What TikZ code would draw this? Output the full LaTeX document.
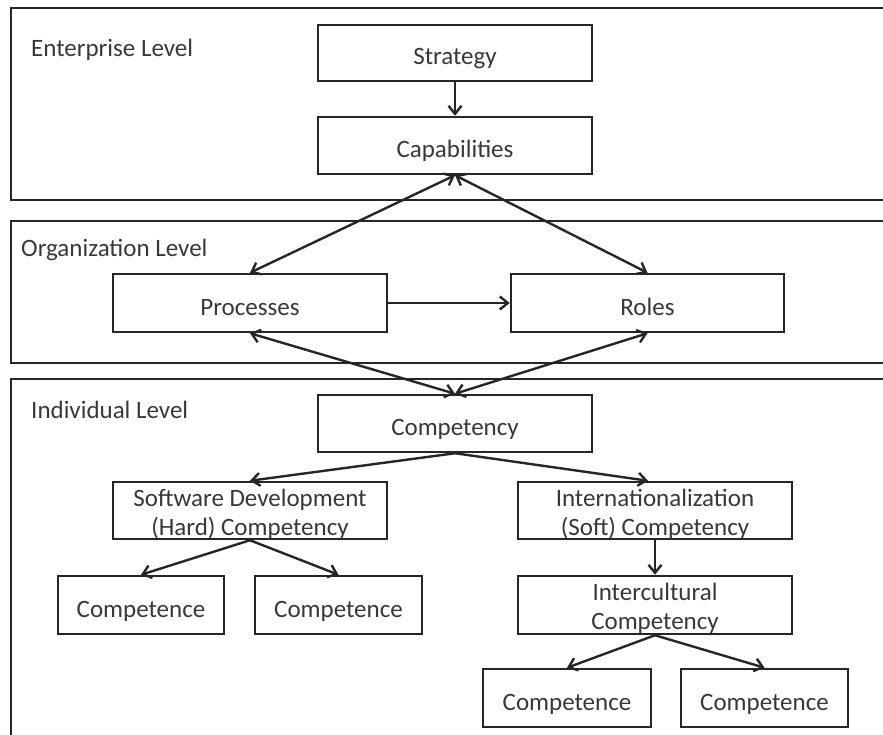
\documentclass[tikz,border=0pt]{standalone}
\usepackage{fontspec}
\setmainfont{Carlito}
\usetikzlibrary{arrows.meta}
\definecolor{linec}{HTML}{262626}
\definecolor{textc}{HTML}{383838}
\begin{document}
\begin{tikzpicture}[x=1pt,y=-1pt,
  frame/.style={draw=linec, line width=2.5pt},
  box/.style={draw=linec, line width=2.5pt, text=textc, fill=white,
    font=\fontsize{25}{29}\selectfont, inner sep=0pt, align=center,
    text height=26pt, text depth=2pt},
  twoline/.style={text height=49pt, text depth=0pt},
  lvl/.style={text=textc, font=\fontsize{25}{29}\selectfont, anchor=base west, inner sep=0pt},
  link/.style={draw=linec, line width=2.4pt, -{Straight Barb[length=8pt,width=13pt]}},
  both/.style={link, {Straight Barb[length=8pt,width=13pt]}-{Straight Barb[length=8pt,width=13pt]}}]
\useasboundingbox (0,0) rectangle (883,735);
\begin{scope}
  \clip (0,0) rectangle (883,735);
  % level frames, open to the right (and below for the last one)
  \draw[frame] (11,8) rectangle (900,200);
  \draw[frame] (11,221) rectangle (900,363);
  \draw[frame] (11,379) rectangle (900,760);
\end{scope}
\node[lvl] (enterprise) at (31,57) {Enterprise Level};
\node[lvl] (organization) at (21,257) {Organization Level};
\node[lvl] (individual) at (31,418) {Individual Level};

% boxes
\node[box, minimum width=274pt, minimum height=56pt] (strategy) at (455,53) {Strategy};
\node[box, minimum width=274pt, minimum height=57pt] (capab) at (455,145.5) {Capabilities};
\node[box, minimum width=274pt, minimum height=58pt] (processes) at (250,303) {Processes};
\node[box, minimum width=273pt, minimum height=58pt] (roles) at (647.5,303) {Roles};
\node[box, minimum width=274pt, minimum height=57pt] (competency) at (455,423.5) {Competency};
\node[box, twoline, minimum width=274pt, minimum height=57pt] (softdev) at (250,510.5) {Software Development\\(Hard) Competency};
\node[box, twoline, minimum width=274pt, minimum height=57pt] (intl) at (655,510.5) {Internationalization\\(Soft) Competency};
\node[box, minimum width=166pt, minimum height=58pt] (compA) at (141,605) {Competence};
\node[box, minimum width=167pt, minimum height=58pt] (compB) at (338.5,605) {Competence};
\node[box, twoline, minimum width=274pt, minimum height=58pt] (intercult) at (655,605) {Intercultural\\Competency};
\node[box, minimum width=168pt, minimum height=58pt] (compC) at (567,698) {Competence};
\node[box, minimum width=167pt, minimum height=58pt] (compD) at (764.5,698) {Competence};

% connectors
\draw[link] (strategy.south) -- (capab.north);
\draw[both] (capab.south) -- (processes.north);
\draw[both] (capab.south) -- (roles.north);
\draw[link] (processes.east) -- (roles.west);
\draw[both] (processes.south) -- (competency.north);
\draw[both] (roles.south) -- (competency.north);
\draw[link] (competency.south) -- (softdev.north);
\draw[link] (competency.south) -- ([xshift=-7pt]intl.north);
\draw[link] (softdev.south) -- (compA.north);
\draw[link] (softdev.south) -- (compB.north);
\draw[link] (intl.south) -- (intercult.north);
\draw[link] (intercult.south) -- (compC.north);
\draw[link] (intercult.south) -- (compD.north);
\end{tikzpicture}
\end{document}
